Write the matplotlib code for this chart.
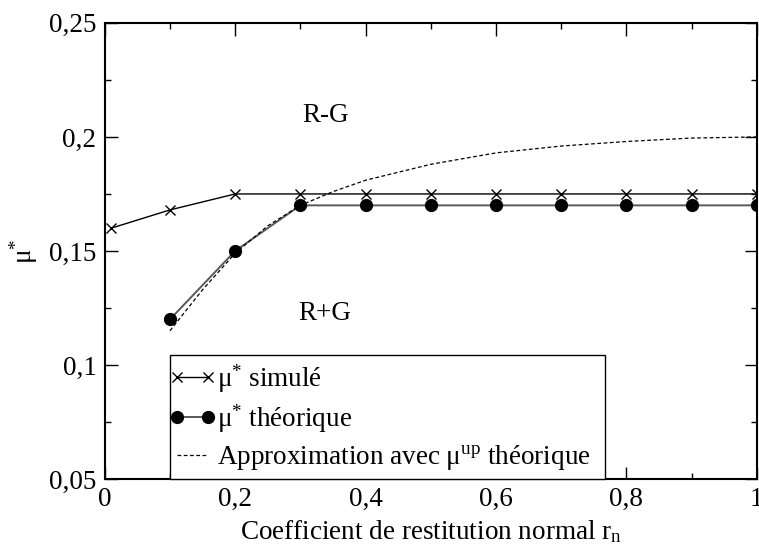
import matplotlib
matplotlib.use("Agg")
import matplotlib.pyplot as plt
from matplotlib.lines import Line2D
from matplotlib.legend_handler import HandlerLine2D
from matplotlib.ticker import MultipleLocator, FuncFormatter

plt.rcParams["font.family"] = ["Liberation Serif", "DejaVu Serif"]
plt.rcParams["mathtext.fontset"] = "custom"
plt.rcParams["mathtext.rm"] = "Liberation Serif"
plt.rcParams["mathtext.it"] = "Liberation Serif:italic"

# ── Data ─────────────────────────────────────────────────────────────────────
rn_sim = [0.01, 0.1, 0.2, 0.3, 0.4, 0.5, 0.6, 0.7, 0.8, 0.9, 1.0]
mu_sim = [0.160, 0.168, 0.175, 0.175, 0.175, 0.175, 0.175, 0.175, 0.175, 0.175, 0.175]

rn_th = [0.1, 0.2, 0.3, 0.4, 0.5, 0.6, 0.7, 0.8, 0.9, 1.0]
mu_th = [0.120, 0.150, 0.170, 0.170, 0.170, 0.170, 0.170, 0.170, 0.170, 0.170]

rn_approx = [0.1, 0.15, 0.2, 0.25, 0.3, 0.35, 0.4, 0.5, 0.6, 0.7, 0.8, 0.9, 1.0]
mu_approx = [0.115, 0.133, 0.149, 0.161, 0.170, 0.176, 0.181, 0.188, 0.193,
             0.196, 0.198, 0.1995, 0.200]

labels = ["μ$^{*}$ simulé", "μ$^{*}$ théorique",
          "Approximation avec μ$^{\\rm up}$ théorique"]

FS = 19.5


def comma(v, pos):
    return f"{v:g}".replace(".", ",")


fig = plt.figure(figsize=(7.59, 5.45), dpi=100)
ax = fig.add_axes([0.138, 0.121, 0.859, 0.837])

ax.plot(rn_sim, mu_sim, color="black", lw=1.0, marker="x", ms=7, mew=1.0,
        label=labels[0])
ax.plot(rn_th, mu_th, color="0.35", lw=1.4, marker="o", ms=8.5,
        mfc="black", mec="black", label=labels[1])
ax.plot(rn_approx, mu_approx, color="black", lw=0.9, ls=(0, (3, 2)),
        label=labels[2])

ax.text(0.338, 0.2095, "R-G", fontsize=FS, ha="center", va="center")
ax.text(0.338, 0.1225, "R+G", fontsize=FS, ha="center", va="center")

ax.set_xlim(0, 1)
ax.set_ylim(0.05, 0.25)
ax.xaxis.set_major_locator(MultipleLocator(0.2))
ax.xaxis.set_minor_locator(MultipleLocator(0.1))
ax.yaxis.set_major_locator(MultipleLocator(0.05))
ax.yaxis.set_minor_locator(MultipleLocator(0.025))
ax.xaxis.set_major_formatter(FuncFormatter(comma))
ax.yaxis.set_major_formatter(FuncFormatter(comma))
ax.tick_params(which="both", direction="in", top=True, right=True,
               labelsize=FS, width=1.0)
ax.tick_params(which="major", length=9, pad=6)
ax.tick_params(which="minor", length=4.5)
for s in ax.spines.values():
    s.set_linewidth(1.5)

ax.set_xlabel("Coefficient de restitution normal r$_{\\rm n}$", fontsize=FS)
ax.xaxis.set_label_coords(0.5, -0.085)
ax.set_ylabel("μ$^{*}$", fontsize=FS)
ax.yaxis.set_label_coords(-0.1, 0.5)

leg = ax.legend(loc="lower left", bbox_to_anchor=(0.0997, 0.0, 0.667, 0.27),
                mode="expand", fontsize=FS, numpoints=2, handlelength=1.15,
                handletextpad=0.35, labelspacing=0.3, borderaxespad=0,
                borderpad=0.25, fancybox=False, framealpha=1, edgecolor="black",
                handler_map={Line2D: HandlerLine2D(marker_pad=0)})
leg.get_frame().set_linewidth(1.0)

fig.savefig("out.png", dpi=100)
